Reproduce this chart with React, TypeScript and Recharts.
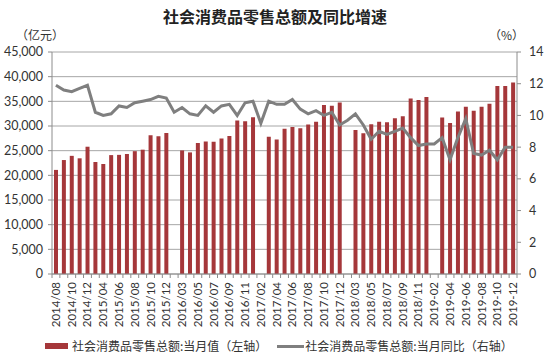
import React from "react";
import {
  ComposedChart,
  Bar,
  Line,
  XAxis,
  YAxis,
  CartesianGrid,
} from "recharts";

const categories = [
  "2014/08", "2014/09", "2014/10", "2014/11", "2014/12",
  "2015/03", "2015/04", "2015/05", "2015/06", "2015/07", "2015/08", "2015/09", "2015/10", "2015/11", "2015/12",
  "2016/02", "2016/03", "2016/04", "2016/05", "2016/06", "2016/07", "2016/08", "2016/09", "2016/10", "2016/11", "2016/12",
  "2017/02", "2017/03", "2017/04", "2017/05", "2017/06", "2017/07", "2017/08", "2017/09", "2017/10", "2017/11", "2017/12",
  "2018/02", "2018/03", "2018/04", "2018/05", "2018/06", "2018/07", "2018/08", "2018/09", "2018/10", "2018/11", "2018/12",
  "2019-02", "2019-03", "2019-04", "2019-05", "2019-06", "2019-07", "2019-08", "2019-09", "2019-10", "2019-11", "2019-12",
];

const monthlyValue: (number | null)[] = [
  21100, 23100, 23950, 23450, 25800,
  22700, 22300, 24100, 24150, 24300, 24900, 25200, 28150, 27900, 28600,
  null, 25050, 24650, 26550, 26850, 26800, 27450, 27950, 31100, 30950, 31750,
  null, 27800, 27250, 29450, 29800, 29550, 30300, 30850, 34250, 34100, 34750,
  null, 29200, 28550, 30350, 30850, 30750, 31550, 32000, 35550, 35250, 35900,
  null, 31700, 30600, 32950, 33900, 33100, 33900, 34500, 38100, 38100, 38800,
];

const yoyGrowth = [
  11.9, 11.6, 11.5, 11.7, 11.9,
  10.2, 10.0, 10.1, 10.6, 10.5, 10.8, 10.9, 11.0, 11.2, 11.1,
  10.2, 10.5, 10.1, 10.0, 10.6, 10.2, 10.6, 10.7, 10.0, 10.8, 10.9,
  9.5, 10.9, 10.7, 10.7, 11.0, 10.4, 10.1, 10.3, 10.0, 10.2, 9.4,
  9.7, 10.1, 9.4, 8.5, 9.0, 8.8, 9.0, 9.2, 8.6, 8.1, 8.2,
  8.2, 8.6, 7.2, 8.6, 9.8, 7.6, 7.5, 7.8, 7.2, 8.0, 8.0,
];

const leftTicks = [0, 5000, 10000, 15000, 20000, 25000, 30000, 35000, 40000, 45000];
const rightTicks = [0, 2, 4, 6, 8, 10, 12, 14];

const title = "社会消费品零售总额及同比增速";
const leftUnit = "（亿元）";
const rightUnit = "（%）";
const barName = "社会消费品零售总额:当月值（左轴）";
const lineName = "社会消费品零售总额:当月同比（右轴）";

const data = categories.map((c, i) => ({
  cat: c,
  value: monthlyValue[i],
  yoy: yoyGrowth[i],
}));

const BAR_COLOR = "#A5373A";
const LINE_COLOR = "#7F7F7F";
const AXIS_COLOR = "#8C8C8C";
const TEXT_COLOR = "#333333";
const CJK = "'Noto Sans CJK SC', sans-serif";
const NUM = "Lato, 'Liberation Sans', sans-serif";

const BAND = 465 / categories.length;

const XTick = (props: any) => {
  const { x, y, payload, index } = props;
  const half = BAND / 2;
  const ly = y + 8;
  return (
    <g>
      <line x1={x - half} y1={y} x2={x - half} y2={y + 4} stroke={AXIS_COLOR} strokeWidth={1} />
      {index === categories.length - 1 && (
        <line x1={x + half} y1={y} x2={x + half} y2={y + 4} stroke={AXIS_COLOR} strokeWidth={1} />
      )}
      {index % 2 === 0 && (
        <text
          x={x}
          y={ly}
          transform={`rotate(-90, ${x}, ${ly})`}
          textAnchor="end"
          dy="0.35em"
          fontSize={11.5}
          fontFamily={NUM}
          fill={TEXT_COLOR}
        >
          {payload.value}
        </text>
      )}
    </g>
  );
};

export default function App() {
  return (
    <div style={{ position: "absolute", left: 0, top: 0, width: 550, height: 358, background: "#fff" }}>
      <div
        style={{
          position: "absolute",
          left: 0,
          width: 550,
          top: 6,
          textAlign: "center",
          fontFamily: CJK,
          fontWeight: 700,
          fontSize: 16,
          color: "#222",
          lineHeight: "20px",
        }}
      >
        {title}
      </div>
      <div style={{ position: "absolute", left: 16, top: 27, fontFamily: CJK, fontSize: 12, color: TEXT_COLOR, lineHeight: "16px" }}>
        {leftUnit}
      </div>
      <div style={{ position: "absolute", left: 489, top: 27, fontFamily: CJK, fontSize: 12, color: TEXT_COLOR, lineHeight: "16px" }}>
        {rightUnit}
      </div>
      <ComposedChart
        width={550}
        height={358}
        data={data}
        margin={{ top: 52, right: 0, bottom: 0, left: 0 }}
      >
        <CartesianGrid yAxisId="left" vertical={false} stroke="#A6A6A6" strokeWidth={1} />
        <XAxis
          dataKey="cat"
          interval={0}
          height={84}
          tickSize={0}
          tickMargin={0}
          tickLine={false}
          axisLine={{ stroke: AXIS_COLOR }}
          tick={<XTick />}
        />
        <YAxis
          yAxisId="left"
          orientation="left"
          width={52}
          domain={[0, 45000]}
          ticks={leftTicks}
          interval={0}
          tickSize={4}
          tickMargin={5}
          axisLine={{ stroke: AXIS_COLOR }}
          tickLine={{ stroke: AXIS_COLOR }}
          tick={{ fill: TEXT_COLOR, fontSize: 12.5, fontFamily: NUM }}
          tickFormatter={(v: number) => v.toLocaleString("en-US")}
        />
        <YAxis
          yAxisId="right"
          orientation="right"
          width={33}
          domain={[0, 14]}
          ticks={rightTicks}
          interval={0}
          tickSize={4}
          tickMargin={8}
          axisLine={{ stroke: AXIS_COLOR }}
          tickLine={{ stroke: AXIS_COLOR }}
          tick={{ fill: TEXT_COLOR, fontSize: 12.5, fontFamily: NUM, textAnchor: "start" }}
        />
        <Bar yAxisId="left" dataKey="value" fill={BAR_COLOR} barSize={4} isAnimationActive={false} />
        <Line
          yAxisId="right"
          dataKey="yoy"
          type="linear"
          stroke={LINE_COLOR}
          strokeWidth={3}
          dot={false}
          activeDot={false}
          isAnimationActive={false}
        />
      </ComposedChart>
      <div
        style={{
          position: "absolute",
          top: 338,
          left: 45,
          display: "flex",
          alignItems: "center",
          fontFamily: CJK,
          fontSize: 12,
          color: TEXT_COLOR,
          lineHeight: "16px",
          whiteSpace: "nowrap",
        }}
      >
        <span style={{ display: "inline-block", width: 23, height: 6, background: BAR_COLOR, marginRight: 4 }} />
        <span>{barName}</span>
        <span style={{ display: "inline-block", width: 27, height: 3, background: LINE_COLOR, marginLeft: 10, marginRight: 1 }} />
        <span>{lineName}</span>
      </div>
    </div>
  );
}
